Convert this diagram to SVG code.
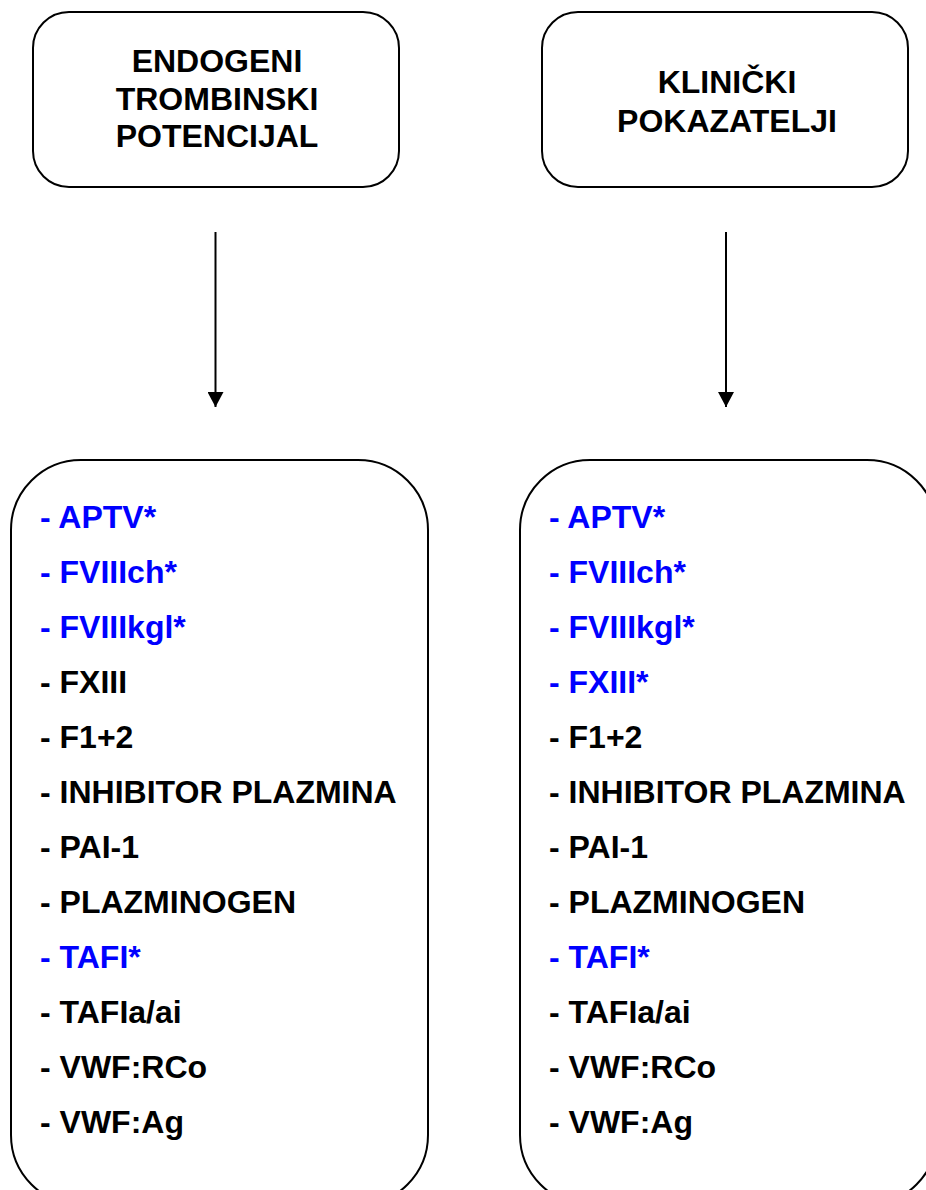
<svg xmlns="http://www.w3.org/2000/svg" width="926" height="1190" viewBox="0 0 926 1190">
<style>
.box{fill:#fff;stroke:#000;stroke-width:2}
.t{font-family:"Liberation Sans",Arial,sans-serif;font-weight:bold;font-size:32px;fill:#000}
.h{text-anchor:middle}
.b{fill:#0000ff}
.conn{stroke:#000;stroke-width:2;fill:none}
</style>
<defs>
<marker id="arr" markerWidth="16" markerHeight="16" refX="15" refY="8" orient="auto" markerUnits="userSpaceOnUse">
<path d="M0,0 L15,8 L0,16 Z" fill="#000"/>
</marker>
</defs>
<g id="n-endogeni">
<rect class="box" x="33" y="12" width="366" height="175" rx="36" ry="36"/>
<text class="t h" x="217" y="72">ENDOGENI</text>
<text class="t h" x="217" y="109.5">TROMBINSKI</text>
<text class="t h" x="217" y="147">POTENCIJAL</text>
</g>
<g id="n-klinicki">
<rect class="box" x="542" y="12" width="366" height="175" rx="36" ry="36"/>
<text class="t h" x="727" y="93">KLINIČKI</text>
<text class="t h" x="727" y="132">POKAZATELJI</text>
</g>
<g id="connectors">
<line class="conn" x1="215.5" y1="232" x2="215.5" y2="407" marker-end="url(#arr)"/>
<line class="conn" x1="726" y1="232" x2="726" y2="407" marker-end="url(#arr)"/>
</g>
<g id="n-list-left">
<rect class="box" x="11" y="460" width="417" height="745" rx="70" ry="70"/>
<text class="t b" x="40" y="528">- APTV*</text>
<text class="t b" x="40" y="583">- FVIIIch*</text>
<text class="t b" x="40" y="638">- FVIIIkgl*</text>
<text class="t" x="40" y="693">- FXIII</text>
<text class="t" x="40" y="748">- F1+2</text>
<text class="t" x="40" y="803">- INHIBITOR PLAZMINA</text>
<text class="t" x="40" y="858">- PAI-1</text>
<text class="t" x="40" y="913">- PLAZMINOGEN</text>
<text class="t b" x="40" y="968">- TAFI*</text>
<text class="t" x="40" y="1023">- TAFIa/ai</text>
<text class="t" x="40" y="1078">- VWF:RCo</text>
<text class="t" x="40" y="1133">- VWF:Ag</text>
</g>
<g id="n-list-right">
<rect class="box" x="520" y="460" width="417" height="745" rx="70" ry="70"/>
<text class="t b" x="549" y="528">- APTV*</text>
<text class="t b" x="549" y="583">- FVIIIch*</text>
<text class="t b" x="549" y="638">- FVIIIkgl*</text>
<text class="t b" x="549" y="693">- FXIII*</text>
<text class="t" x="549" y="748">- F1+2</text>
<text class="t" x="549" y="803">- INHIBITOR PLAZMINA</text>
<text class="t" x="549" y="858">- PAI-1</text>
<text class="t" x="549" y="913">- PLAZMINOGEN</text>
<text class="t b" x="549" y="968">- TAFI*</text>
<text class="t" x="549" y="1023">- TAFIa/ai</text>
<text class="t" x="549" y="1078">- VWF:RCo</text>
<text class="t" x="549" y="1133">- VWF:Ag</text>
</g>
</svg>
